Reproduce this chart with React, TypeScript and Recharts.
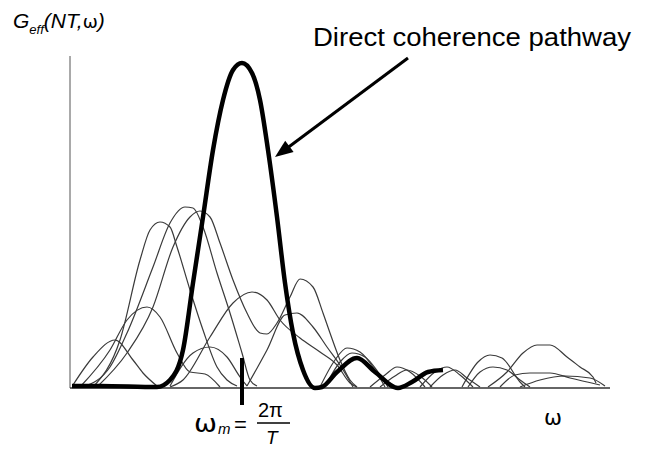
import React from 'react'
import { LineChart, Line, XAxis, YAxis, ReferenceLine } from 'recharts'

// values, arbitrary units: [omega, G]
const direct: [number, number][] = [
  [2, 2], [30, 2], [87, 1], [100, 8], [113, 38], [123, 105], [133, 171], [143, 238],
  [153, 288], [163, 318], [172, 325], [182, 315], [190, 288], [198, 238], [207, 171],
  [215, 105], [223, 55], [233, 18], [245, 0], [252, 1], [267, 16], [287, 30],
  [305, 16], [328, 0], [342, 6], [358, 16], [373, 18],
]

const small1: [number, number][] = [[3, 3], [23, 31], [45, 48], [63, 28], [73, 15], [87, 2]]
const medium1: [number, number][] = [
  [10, 1], [40, 38], [57, 68], [77, 81], [90, 71], [107, 35], [120, 16], [135, 14], [150, 1],
]
const tall1: [number, number][] = [
  [23, 1], [50, 48], [70, 128], [80, 158], [90, 166], [100, 161], [107, 141], [120, 98],
  [133, 58], [147, 21], [157, 8], [167, 2],
]
const tall2: [number, number][] = [
  [13, 1], [40, 21], [57, 55], [83, 121], [100, 165], [115, 181], [123, 180], [133, 161],
  [147, 115], [160, 75], [172, 35], [180, 8], [187, 2],
]
const tall3: [number, number][] = [
  [27, 1], [57, 35], [83, 81], [103, 141], [120, 171], [130, 177], [140, 171], [150, 145],
  [163, 108], [177, 75], [190, 55], [197, 54], [207, 65], [220, 91], [230, 109], [243, 101],
  [253, 75], [260, 55], [270, 28], [280, 8], [287, 1],
]
const sideB: [number, number][] = [
  [100, 1], [113, 8], [140, 51], [163, 85], [182, 96], [197, 88], [210, 68], [230, 50],
  [250, 36], [267, 23], [280, 5], [287, 1],
]
const small2: [number, number][] = [[100, 2], [123, 35], [140, 41], [157, 31], [170, 11], [177, 2]]
const sideC: [number, number][] = [
  [177, 2], [197, 38], [215, 73], [227, 75], [243, 61], [257, 41], [270, 23], [283, 1],
]
const lobe1: [number, number][] = [[250, 1], [265, 28], [277, 40], [290, 36], [305, 18], [315, 1]]
const lobe2: [number, number][] = [[255, 1], [270, 26], [282, 35], [295, 31], [308, 16], [318, 1]]
const lobe3: [number, number][] = [[300, 1], [315, 13], [327, 21], [340, 16], [355, 1]]
const lobe4: [number, number][] = [[310, 1], [325, 12], [337, 18], [350, 12], [362, 1]]
const lobe5: [number, number][] = [[350, 1], [365, 16], [377, 21], [390, 13], [403, 1]]
const lobe6: [number, number][] = [[360, 1], [373, 13], [385, 18], [397, 10], [410, 1]]
const far1: [number, number][] = [[392, 1], [408, 26], [420, 33], [432, 30], [450, 6], [455, 1]]
const far2: [number, number][] = [[398, 1], [410, 16], [423, 21], [437, 18], [450, 8], [460, 1]]
const far3: [number, number][] = [
  [418, 1], [437, 16], [453, 35], [467, 43], [480, 43], [497, 31], [510, 21], [523, 11], [526, 5],
]
const far4: [number, number][] = [[430, 1], [445, 13], [460, 15], [480, 15], [500, 10], [530, 3]]
const far5: [number, number][] = [[450, 1], [470, 8], [495, 12], [520, 10], [535, 2]]

const thinCurves = [
  small1, medium1, tall1, tall2, tall3, sideB, small2, sideC,
  lobe1, lobe2, lobe3, lobe4, lobe5, lobe6, far1, far2, far3, far4, far5,
]

const omegaM = 172

const toPoints = (pts: [number, number][]) => pts.map(([x, y]) => ({ x, y }))

const sans = 'Liberation Sans, Arial, sans-serif'

export default function App() {
  return (
    <div style={{ position: 'absolute', left: 0, top: 0, width: 647, height: 453, background: '#fff' }}>
      <LineChart
        width={647}
        height={453}
        margin={{ top: 56, right: 37, bottom: 65, left: 70 }}
      >
        <XAxis type="number" dataKey="x" domain={[0, 540]} hide />
        <YAxis type="number" dataKey="y" domain={[0, 332]} hide />
        <ReferenceLine x={0} stroke="#555" strokeWidth={1} />
        <ReferenceLine y={0} stroke="#333" strokeWidth={1.6} />
        {thinCurves.map((c, i) => (
          <Line
            key={i}
            data={toPoints(c)}
            dataKey="y"
            type="monotone"
            stroke="#3a3a3a"
            strokeWidth={1.2}
            dot={false}
            isAnimationActive={false}
          />
        ))}
        <Line
          data={toPoints(direct)}
          dataKey="y"
          type="monotone"
          stroke="#000"
          strokeWidth={4.5}
          dot={false}
          isAnimationActive={false}
        />
        <ReferenceLine
          segment={[{ x: omegaM, y: 30 }, { x: omegaM, y: -17 }]}
          stroke="#000"
          strokeWidth={4}
          ifOverflow="visible"
        />
      </LineChart>
      <svg
        width={647}
        height={453}
        style={{ position: 'absolute', left: 0, top: 0, pointerEvents: 'none' }}
      >
        <text x={13} y={28} fontFamily={sans} fontSize={21} fill="#000">
          <tspan fontStyle="italic">G</tspan>
          <tspan fontStyle="italic" fontSize={13} dy={6}>eff</tspan>
          <tspan fontStyle="italic" dy={-6}>(NT,</tspan>
          <tspan fontFamily="DejaVu Sans, sans-serif" fontSize={18}>ω</tspan>
          <tspan fontStyle="italic">)</tspan>
        </text>
        <text
          x={313}
          y={46}
          fontFamily={sans}
          fontSize={25}
          textLength={318}
          lengthAdjust="spacingAndGlyphs"
          fill="#000"
        >
          Direct coherence pathway
        </text>
        <line x1={408} y1={58} x2={286} y2={149} stroke="#000" strokeWidth={3} />
        <polygon points="275,157 285.2,140.7 293.6,151.9" fill="#000" />
        <text x={194} y={432} fontFamily="DejaVu Sans, sans-serif" fontSize={25} textLength={23} lengthAdjust="spacingAndGlyphs" fill="#000">ω</text>
        <text x={218} y={434} fontFamily={sans} fontStyle="italic" fontSize={15} fill="#000">m</text>
        <text x={234} y={432} fontFamily={sans} fontSize={22} fill="#000">=</text>
        <text x={258} y={417} fontFamily={sans} fontSize={20} fill="#000">2π</text>
        <line x1={257} y1={423} x2={290} y2={423} stroke="#000" strokeWidth={1.5} />
        <text x={266} y={444} fontFamily={sans} fontStyle="italic" fontSize={19} fill="#000">T</text>
        <text x={544} y={425} fontFamily="DejaVu Sans, sans-serif" fontSize={22} textLength={18} lengthAdjust="spacingAndGlyphs" fill="#000">ω</text>
      </svg>
    </div>
  )
}
